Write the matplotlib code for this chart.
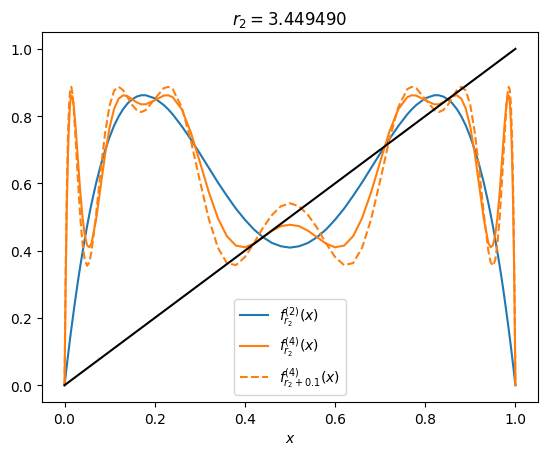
import numpy as np
import matplotlib
matplotlib.use('Agg')
import matplotlib.pyplot as plt

# sample points (curves are symmetric about x = 0.5)
x = [0.0, 0.0025, 0.005, 0.0075, 0.01, 0.0125, 0.015, 0.0175, 0.02, 0.025, 0.03, 0.035, 0.04,
     0.045, 0.05, 0.055, 0.06, 0.07, 0.08, 0.09, 0.1, 0.11, 0.12, 0.13, 0.14, 0.15, 0.16, 0.17,
     0.18, 0.2, 0.22, 0.23, 0.24, 0.26, 0.28, 0.3, 0.32, 0.34, 0.36, 0.38, 0.4, 0.42, 0.44, 0.46,
     0.48,
     0.5,
     0.52, 0.54, 0.56, 0.58, 0.6, 0.62, 0.64, 0.66, 0.68, 0.7, 0.72, 0.74, 0.76, 0.77, 0.78,
     0.8, 0.82, 0.83, 0.84, 0.85, 0.86, 0.87, 0.88, 0.89, 0.9, 0.91, 0.92, 0.93, 0.94, 0.945,
     0.95, 0.955, 0.96, 0.965, 0.97, 0.975, 0.98, 0.9825, 0.985, 0.9875, 0.99, 0.9925, 0.995,
     0.9975, 1.0]

f2_r2 = [0.000, 0.029, 0.058, 0.086, 0.114, 0.141, 0.167, 0.192, 0.217, 0.266, 0.312, 0.355, 0.396,
         0.436, 0.473, 0.508, 0.541, 0.601, 0.653, 0.699, 0.738, 0.772, 0.799, 0.821, 0.838, 0.850,
         0.858, 0.862, 0.862, 0.853, 0.833, 0.820, 0.805, 0.770, 0.731, 0.689, 0.646, 0.603, 0.563,
         0.525, 0.492, 0.463, 0.440, 0.423, 0.413,
         0.409,
         0.413, 0.423, 0.440, 0.463, 0.492, 0.525, 0.563, 0.603, 0.646, 0.689, 0.731, 0.770, 0.805,
         0.820, 0.833, 0.853, 0.862, 0.862, 0.858, 0.850, 0.838, 0.821, 0.799, 0.772, 0.738, 0.699,
         0.653, 0.601, 0.541, 0.508, 0.473, 0.436, 0.396, 0.355, 0.312, 0.266, 0.217, 0.192, 0.167,
         0.141, 0.114, 0.086, 0.058, 0.029, 0.000]

f4_r2 = [0.000, 0.306, 0.529, 0.683, 0.782, 0.839, 0.861, 0.858, 0.836, 0.759, 0.664, 0.572, 0.497,
         0.445, 0.416, 0.410, 0.423, 0.493, 0.590, 0.687, 0.767, 0.822, 0.852, 0.862, 0.859, 0.850,
         0.841, 0.835, 0.835, 0.847, 0.861, 0.862, 0.856, 0.820, 0.752, 0.664, 0.574, 0.497, 0.443,
         0.415, 0.410, 0.421, 0.440, 0.459, 0.473,
         0.477,
         0.473, 0.459, 0.440, 0.421, 0.410, 0.415, 0.443, 0.497, 0.574, 0.664, 0.752, 0.820, 0.856,
         0.862, 0.861, 0.847, 0.835, 0.835, 0.841, 0.850, 0.859, 0.862, 0.852, 0.822, 0.767, 0.687,
         0.590, 0.493, 0.423, 0.410, 0.416, 0.445, 0.497, 0.572, 0.664, 0.759, 0.836, 0.858, 0.861,
         0.839, 0.782, 0.683, 0.529, 0.306, 0.000]

f4_r2p = [0.000, 0.339, 0.579, 0.737, 0.833, 0.878, 0.887, 0.867, 0.829, 0.721, 0.603, 0.497, 0.419,
          0.371, 0.355, 0.366, 0.399, 0.508, 0.637, 0.750, 0.832, 0.876, 0.887, 0.877, 0.855, 0.833,
          0.818, 0.812, 0.818, 0.851, 0.883, 0.887, 0.880, 0.826, 0.728, 0.608, 0.494, 0.409, 0.363,
          0.357, 0.381, 0.422, 0.468, 0.506, 0.532,
          0.541,
          0.532, 0.506, 0.468, 0.422, 0.381, 0.357, 0.363, 0.409, 0.494, 0.608, 0.728, 0.826, 0.880,
          0.887, 0.883, 0.851, 0.818, 0.812, 0.818, 0.833, 0.855, 0.877, 0.887, 0.876, 0.832, 0.750,
          0.637, 0.508, 0.399, 0.366, 0.355, 0.371, 0.419, 0.497, 0.603, 0.721, 0.829, 0.867, 0.887,
          0.878, 0.833, 0.737, 0.579, 0.339, 0.000]

diag_x = [0.0, 1.0]
diag_y = [0.0, 1.0]

fig = plt.figure(figsize=(5.47, 4.56), dpi=100)
ax = fig.add_subplot(111)
fig.subplots_adjust(left=0.0768, right=0.9835, top=0.9276, bottom=0.1162)

ax.plot(x, f2_r2, label=r'$f^{(2)}_{r_2}(x)$')
ax.plot(x, f4_r2, color='C1', label=r'$f^{(4)}_{r_2}(x)$')
ax.plot(x, f4_r2p, color='C1', linestyle='--', label=r'$f^{(4)}_{r_2+0.1}(x)$')
ax.plot(diag_x, diag_y, color='black')

ax.set_xlabel(r'$x$')
ax.set_title(r'$r_2 = 3.449490$')
ax.legend(loc='lower center')

fig.savefig('out.png', dpi=100)
